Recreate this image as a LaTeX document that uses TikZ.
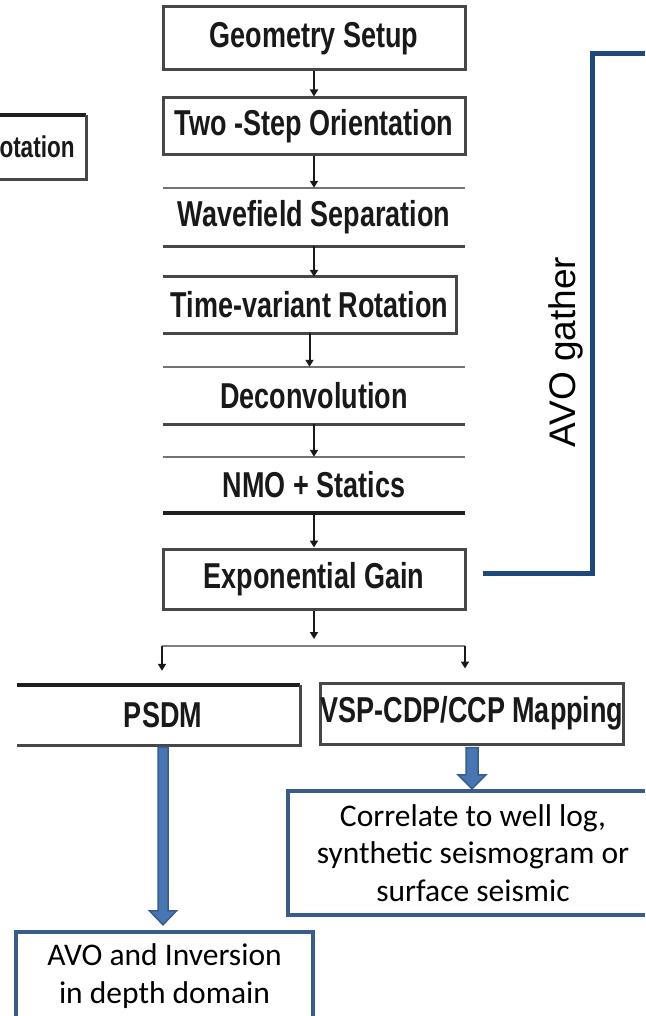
\documentclass[tikz,border=0pt]{standalone}
\usepackage{fontspec}
\setmainfont{Liberation Sans}
\newfontfamily\condfont{Liberation Sans}[FakeStretch=0.75]
\newfontfamily\calfont{Carlito}
\usetikzlibrary{calc,arrows.meta}
\definecolor{avoblue}{RGB}{31,73,125}
\definecolor{boxblue}{RGB}{56,93,138}
\definecolor{fillblue}{RGB}{72,118,178}
\definecolor{ink}{RGB}{25,25,25}
\begin{document}
\begin{tikzpicture}[x=1pt,y=-1pt,
  stepbox/.style={minimum width=302pt, inner sep=0pt, font=\condfont\bfseries\fontsize{36}{40}\selectfont, text=ink},
  frame/.style={line width=3pt, draw=black!72},
  thinrule/.style={line width=2.5pt, draw=black!55},
  heavyrule/.style={line width=4.5pt, draw=black!88},
  flowarrow/.style={line width=2pt, draw=ink, -{Triangle[width=8pt,length=7pt]}},
  branchline/.style={line width=2pt, draw=black!50},
  bluetext/.style={font=\calfont\fontsize{31.5}{37.5}\selectfont, align=center, inner sep=0pt},
  bluebox/.style={line width=3.5pt, draw=boxblue},
  blockarrow/.style={fill=fillblue, draw=boxblue, line width=1.5pt, line join=miter},
  avoline/.style={line width=5pt, draw=avoblue}
]
\fill[white, use as bounding box] (0,0) rectangle (645,1016);

% main column
\node[stepbox, minimum height=63pt, frame] (geo) at (314,38.5) {Geometry Setup};
\node[stepbox, minimum height=57pt, frame] (two) at (314,126.5) {Two -Step Orientation};
\node[stepbox, minimum height=58pt] (wave) at (314,217) {Wavefield Separation};
\node[stepbox, minimum width=293pt, minimum height=56pt] (time) at (309.5,305) {Time-variant Rotation};
\node[stepbox, minimum height=57pt] (deconv) at (314,395.5) {Deconvolution};
\node[stepbox, minimum height=56pt] (nmo) at (314,485) {NMO + Statics};
\node[stepbox, minimum height=60pt, frame] (exp) at (314,579) {Exponential Gain};

\draw[thinrule] (wave.north west) -- (wave.north east);
\draw[frame] (wave.south west) -- (wave.south east);
\draw[frame] (time.north west) -- (time.north east) -- (time.south east) -- (time.south west);
\draw[thinrule] (deconv.north west) -- (deconv.north east);
\draw[frame] (deconv.south west) -- (deconv.south east);
\draw[thinrule] (nmo.north west) -- (nmo.north east);
\draw[heavyrule] (nmo.south west) -- (nmo.south east);

\draw[flowarrow] (geo.south) -- (two.north);
\draw[flowarrow] (two.south) -- (wave.north);
\draw[flowarrow] (wave.south) -- (wave.south |- time.north);
\draw[flowarrow] (time.south) -- (time.south |- deconv.north);
\draw[flowarrow] (deconv.south) -- (nmo.north);
\draw[flowarrow] (nmo.south) -- (exp.north);

% partial box at left
\node[stepbox, font=\condfont\bfseries\fontsize{30}{33}\selectfont, minimum width=86pt, minimum height=64pt] (rot) at (43,147) {\hspace*{-12pt}otation};
\coordinate (leftedge) at (0,0);
\draw[heavyrule] (leftedge |- rot.north) -- (rot.north east);
\draw[frame] (rot.north east) -- (rot.south east) -- (leftedge |- rot.south);

% lower boxes
\node[stepbox, minimum width=274pt, minimum height=60pt] (psdm) at (163,715) {PSDM};
\coordinate (psdmleft) at (17,0);
\draw[heavyrule] (psdmleft |- psdm.north) -- (psdm.north east);
\draw[frame] (psdm.north east) -- (psdm.south east) -- (psdmleft |- psdm.south);

\node[stepbox, minimum width=300pt, minimum height=61pt, frame] (vsp) at (472,713.5) {VSP-CDP/CCP Mapping};

% branch
\coordinate (bl) at (162,646);
\coordinate (br) at (465,646);
\draw[flowarrow, shorten >=7pt] (exp.south) -- (exp.south |- bl);
\draw[branchline] (bl) -- (br);
\draw[flowarrow, shorten >=14pt] (bl) -- (bl |- psdm.north);
\draw[flowarrow, shorten >=13pt] (br) -- (br |- vsp.north);

% blue boxes
\node[bluetext, minimum width=370pt, minimum height=124pt] (corr) at (473,853) {Correlate to well log,\\synthetic seismogram or\\surface seismic};
\coordinate (rightedge) at (645,0);
\draw[bluebox] (rightedge |- corr.north) -- (corr.north west) -- (corr.south west) -- (rightedge |- corr.south);

\node[bluetext, minimum width=297pt, minimum height=88pt] (avo) at (164.5,976) {AVO and Inversion\\in depth domain};
\coordinate (bottomedge) at (0,1016);
\draw[bluebox] (bottomedge -| avo.west) -- (avo.north west) -- (avo.north east) -- (bottomedge -| avo.east);

% block arrows
\path[blockarrow] let \p1=(psdm.south), \p2=(avo.north) in
  (\x1-5pt,\y1-2pt) -- (\x1+5pt,\y1-2pt) -- (\x1+5pt,\y2+21pt) -- (\x1+13.5pt,\y2+21pt) -- (\x1,\y2+7pt) -- (\x1-13.5pt,\y2+21pt) -- (\x1-5pt,\y2+21pt) -- cycle;
\path[blockarrow] let \p1=(vsp.south), \p2=(corr.north) in
  (\x1-6pt,\y1-2pt) -- (\x1+6pt,\y1-2pt) -- (\x1+6pt,\y2+16pt) -- (\x1+14pt,\y2+16pt) -- (\x1,\y2+2pt) -- (\x1-14pt,\y2+16pt) -- (\x1-6pt,\y2+16pt) -- cycle;

% AVO gather loop
\coordinate (g1) at (592,54);
\coordinate (g2) at (645,54);
\draw[avoline] ([shift={(16,-6)}]exp.east) -| (g1) -- (g2);
\node[rotate=90, font=\fontsize{37}{40}\selectfont, inner sep=0pt] (avolabel) at (566,352) {AVO gather};
\end{tikzpicture}
\end{document}
